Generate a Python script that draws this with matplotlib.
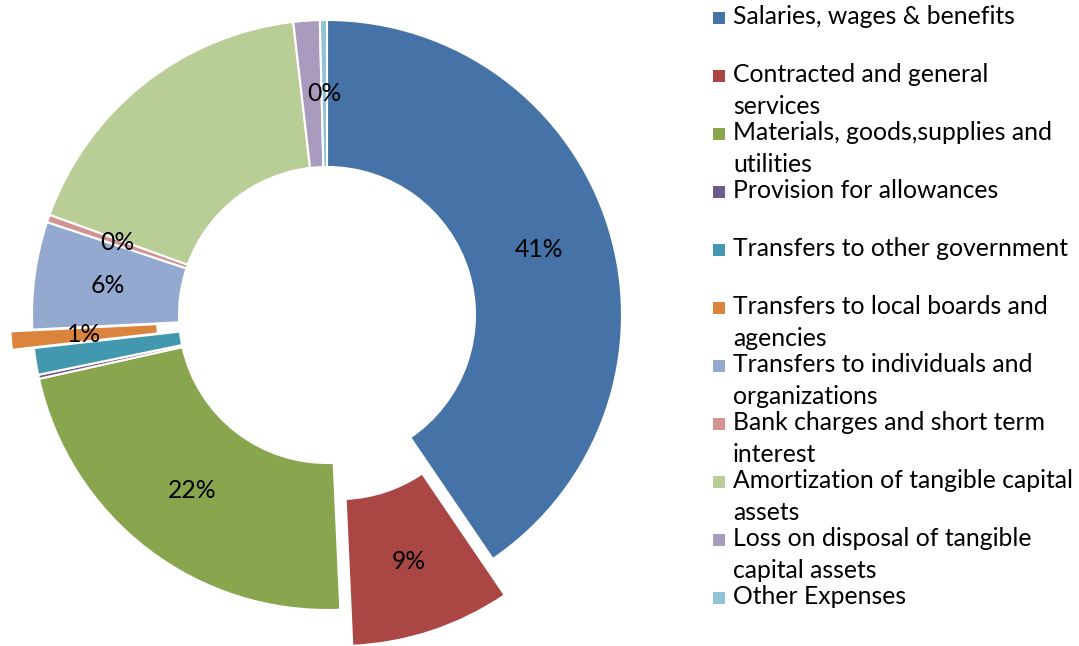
import numpy as np
import matplotlib
matplotlib.use("Agg")
import matplotlib.pyplot as plt
from matplotlib.patches import Rectangle

# =============================================================================
# DADOS
# =============================================================================

categorias = [
    "Salaries, wages & benefits",
    "Contracted and general\nservices",
    "Materials, goods,supplies and\nutilities",
    "Provision for allowances",
    "Transfers to other government",
    "Transfers to local boards and\nagencies",
    "Transfers to individuals and\norganizations",
    "Bank charges and short term\ninterest",
    "Amortization of tangible capital\nassets",
    "Loss on disposal of tangible\ncapital assets",
    "Other Expenses",
]

valores = [40.6, 8.8, 22.3, 0.22, 1.47, 1.0, 5.9, 0.42, 17.7, 1.44, 0.39]

# rótulos que aparecem no gráfico (os vazios ficam escondidos no original)
rotulos = ["41%", "9%", "22%", "", "", "1%", "6%", "0%", "", "", "0%"]

cores = [
    "#4572A7", "#AA4643", "#89A54E", "#71588F", "#4198AF", "#DB843D",
    "#93A9CF", "#D19392", "#B9CD96", "#A99BBD", "#92C3D5",
]

# =============================================================================
# FIGURA
# =============================================================================

W, H = 1079, 646
FONTE = "Lato"
FS = 17.8

fig = plt.figure(figsize=(W / 100, H / 100), dpi=100)
ax = fig.add_axes([0, 0, 1, 1])

CX, CY = 327, H - 315
R_EXT = 295
LARGURA = 147
# deslocamento das fatias destacadas (em pixels, o pie usa unidades de dados)
explode = [0, 38, 0, 0, 0, 22, 0, 0, 0, 0, 0]

wedges, _ = ax.pie(
    valores,
    colors=cores,
    startangle=90,
    counterclock=False,
    radius=R_EXT,
    center=(CX, CY),
    explode=explode,
    wedgeprops=dict(width=LARGURA, edgecolor="white", linewidth=1.5),
)

ax.set_xlim(0, W)
ax.set_ylim(0, H)
ax.set_aspect("equal")
ax.axis("off")

# rótulos no meio do anel
for w, txt in zip(wedges, rotulos):
    if not txt:
        continue
    ang = np.deg2rad((w.theta1 + w.theta2) / 2)
    r = w.r - w.width / 2
    x = w.center[0] + r * np.cos(ang)
    y = w.center[1] + r * np.sin(ang)
    ax.text(x, y, txt, ha="center", va="center", fontsize=FS,
            family=FONTE, color="black")

# =============================================================================
# LEGENDA
# =============================================================================

for i, (cat, cor) in enumerate(zip(categorias, cores)):
    yc = 17.5 + 58 * i
    ax.add_patch(Rectangle((713, H - yc - 6), 12, 12, color=cor, lw=0))
    for k, linha in enumerate(cat.split("\n")):
        ax.text(733, H - (yc + 7 + 31 * k), linha, ha="left", va="baseline",
                fontsize=FS, family=FONTE, color="black")

fig.savefig("out.png", dpi=100)
